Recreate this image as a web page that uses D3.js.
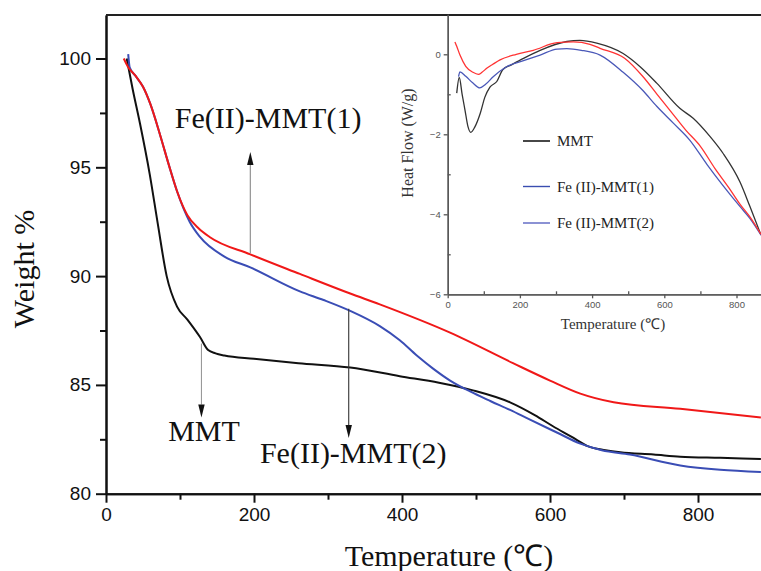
<!DOCTYPE html>
<html><head><meta charset="utf-8">
<script src="https://cdn.jsdelivr.net/npm/d3@7"></script>
<style>body{margin:0;background:#fff}svg{display:block}</style>
</head><body>
<svg id="c" width="761" height="571"></svg>
<script>
// ---- Main TG data (Temperature °C, Weight %) ----
const mmtTemp   = [28, 36, 46, 59, 70, 82, 96, 110, 127, 138, 148, 160, 200, 260, 330, 397, 450, 496, 546, 580, 604, 630, 650, 675, 695, 740, 776, 830, 885];
const mmtWeight = [100, 98.6, 97.0, 94.7, 92.4, 90.0, 88.6, 88.0, 87.2, 86.6, 86.45, 86.35, 86.2, 86.0, 85.8, 85.4, 85.1, 84.75, 84.2, 83.6, 83.1, 82.6, 82.2, 82.0, 81.9, 81.8, 81.7, 81.65, 81.6];
const fe1Temp   = [24, 30, 40, 50, 60, 73, 85, 96, 110, 125, 140, 195, 262, 330, 370, 465, 550, 600, 641, 686, 776, 885];
const fe1Weight = [100, 99.6, 99.2, 98.7, 97.9, 96.5, 95.1, 93.9, 92.8, 92.2, 91.8, 91.0, 90.1, 89.2, 88.7, 87.4, 86.0, 85.2, 84.6, 84.2, 83.9, 83.5];
const fe2Temp   = [30, 32, 40, 50, 60, 73, 85, 96, 113, 127, 160, 195, 262, 294, 330, 370, 397, 420, 442, 465, 492, 520, 546, 573, 610, 641, 670, 708, 776, 830, 885];
const fe2Weight = [100.2, 99.6, 99.2, 98.7, 97.9, 96.5, 95.1, 93.9, 92.5, 91.8, 90.9, 90.4, 89.3, 88.9, 88.4, 87.7, 87.05, 86.35, 85.75, 85.2, 84.7, 84.25, 83.85, 83.4, 82.8, 82.3, 82.0, 81.8, 81.3, 81.1, 81.0];

// ---- Inset DSC data (Temperature °C, Heat Flow W/g) ----
const dscMmtTemp = [25, 32, 40, 48, 56, 64, 75, 90, 103, 117, 136, 153, 175, 210, 256, 330, 366, 413, 486, 533, 579, 643, 680, 727, 763, 810, 837, 868];
const dscMmtHF   = [-0.97, -0.58, -1.0, -1.4, -1.8, -1.95, -1.82, -1.48, -1.07, -0.82, -0.68, -0.38, -0.27, -0.1, 0.1, 0.32, 0.35, 0.28, 0.02, -0.31, -0.72, -1.35, -1.6, -2.06, -2.48, -3.2, -3.8, -4.52];
const dscFe1Temp = [20, 25, 34, 50, 70, 85, 95, 108, 125, 145, 190, 237, 303, 348, 394, 422, 490, 540, 580, 620, 660, 700, 740, 780, 810, 840, 868];
const dscFe1HF   = [0.31, 0.2, -0.02, -0.3, -0.45, -0.5, -0.45, -0.35, -0.25, -0.14, 0.0, 0.1, 0.29, 0.31, 0.25, 0.15, -0.1, -0.55, -1.0, -1.45, -1.9, -2.3, -2.85, -3.35, -3.75, -4.1, -4.5];
const dscFe2Temp = [30, 34, 50, 70, 89, 105, 126, 163, 210, 256, 303, 330, 370, 422, 486, 540, 579, 625, 671, 718, 760, 791, 810, 837, 868];
const dscFe2HF   = [-0.56, -0.44, -0.55, -0.72, -0.84, -0.75, -0.56, -0.31, -0.16, -0.02, 0.13, 0.14, 0.1, -0.02, -0.45, -0.9, -1.3, -1.72, -2.15, -2.75, -3.25, -3.6, -3.81, -4.1, -4.52];

// ---- Ticks / labels ----
const xMajor = [0, 200, 400, 600, 800], xMinor = [100, 300, 500, 700];
const yMajor = [80, 85, 90, 95, 100], yMinor = [82.5, 87.5, 92.5, 97.5];
const ixMajor = [0, 200, 400, 600, 800], ixMinor = [100, 300, 500, 700];
const iyMajor = [-6, -4, -2, 0], iyMinor = [-5, -3, -1];
const legendLabels = ["MMT", "Fe (II)-MMT(1)", "Fe (II)-MMT(2)"];
const legendColors = ["#333333", "#3a4db0", "#5a63c2"];

// Annotations: [label, label T, label W, arrow T, arrow from W, arrow tip W]
const annotations = [
  ["Fe(II)-MMT(1)", 93, 96.8, 195, 91.05, 95.7],
  ["MMT", 84, 82.4, 129, 86.9, 83.5],
  ["Fe(II)-MMT(2)", 208, 81.4, 328, 88.5, 82.56]
];
const arrowColors = ["#888", "#999", "#333"];

const svg = d3.select("#c");
const x = d3.scaleLinear([0, 900], [106, 772]);
const y = d3.scaleLinear([80, 102], [493.7, 15]);
const xi = d3.scaleLinear([0, 900], [447.7, 772.6]);
const yi = d3.scaleLinear([-6, 1], [294.3, 14.3]);

function styleAxis(g, font, size, color, sw) {
  g.select(".domain").attr("stroke", color).attr("stroke-width", sw);
  g.selectAll(".tick line").attr("stroke", color).attr("stroke-width", sw);
  g.selectAll(".tick text").attr("font-family", font).attr("font-size", size).attr("fill", color);
}
const mainFont = "'Liberation Sans', Arial, sans-serif";
const serif = "'Liberation Serif', 'Times New Roman', serif";

// ---- Main axes ----
svg.append("g").attr("transform", "translate(0,493.7)")
  .call(d3.axisBottom(x).tickValues(xMinor).tickSize(6).tickSizeOuter(0).tickFormat(""))
  .call(g => styleAxis(g, mainFont, 19, "#111", 2));
svg.append("g").attr("transform", "translate(0,493.7)")
  .call(d3.axisBottom(x).tickValues(xMajor).tickSize(9).tickSizeOuter(0).tickPadding(5).tickFormat(d3.format("d")))
  .call(g => styleAxis(g, mainFont, 19, "#111", 2));
svg.append("g").attr("transform", "translate(106,0)")
  .call(d3.axisLeft(y).tickValues(yMinor).tickSize(6).tickSizeOuter(0).tickFormat(""))
  .call(g => styleAxis(g, mainFont, 19, "#111", 2));
svg.append("g").attr("transform", "translate(106,0)")
  .call(d3.axisLeft(y).tickValues(yMajor).tickSize(10).tickSizeOuter(0).tickPadding(5).tickFormat(d3.format("d")))
  .call(g => styleAxis(g, mainFont, 19, "#111", 2));
svg.append("path").attr("d", d3.line()([[x(0), y(102)], [x(900), y(102)]]))
  .attr("stroke", "#222").attr("stroke-width", 2).attr("fill", "none");

svg.append("text").attr("transform", "translate(34,269) rotate(-90)")
  .attr("text-anchor", "middle").attr("font-family", serif).attr("font-size", 30).attr("fill", "#111")
  .text("Weight %");
svg.append("text").attr("x", 449).attr("y", 566)
  .attr("text-anchor", "middle").attr("font-family", serif).attr("font-size", 30).attr("fill", "#111")
  .text("Temperature (℃)");

// ---- Main curves ----
const line = d3.line().x(d => x(d[0])).y(d => y(d[1])).curve(d3.curveMonotoneX);
const mainSeries = [
  [mmtTemp, mmtWeight, "#111111"],
  [fe2Temp, fe2Weight, "#3a4db5"],
  [fe1Temp, fe1Weight, "#f01818"]
];
mainSeries.forEach(([t, w, c]) => {
  svg.append("path").datum(d3.zip(t, w)).attr("d", line)
    .attr("fill", "none").attr("stroke", c).attr("stroke-width", 2);
});

// ---- Annotations ----
annotations.forEach(([lab, lt, lw, at, aw0, aw1], i) => {
  const up = aw1 > aw0;
  const ax = x(at), y0 = y(aw0), y1 = y(aw1);
  const headLen = 13, headW = 3.2;
  const base = up ? y1 + headLen : y1 - headLen;
  svg.append("path").attr("d", d3.line()([[ax, y0], [ax, base]]))
    .attr("stroke", arrowColors[i]).attr("stroke-width", 1.1).attr("fill", "none");
  svg.append("path").attr("d", d3.line()([[ax - headW, base], [ax + headW, base], [ax, y1]]) + "Z")
    .attr("fill", "#111");
  svg.append("text").attr("x", x(lt)).attr("y", y(lw))
    .attr("font-family", serif).attr("font-size", 30).attr("fill", "#111").text(lab);
});

// ---- Inset ----
const insetFont = "'Liberation Sans', Arial, sans-serif";
svg.append("g").attr("transform", "translate(0,294.3)")
  .call(d3.axisBottom(xi).tickValues(ixMinor).tickSize(-3).tickSizeOuter(0).tickFormat(""))
  .call(g => styleAxis(g, insetFont, 9.5, "#555", 1.3));
svg.append("g").attr("transform", "translate(0,294.3)")
  .call(d3.axisBottom(xi).tickValues(ixMajor).tickSize(4).tickSizeOuter(0).tickPadding(3).tickFormat(d3.format("d")))
  .call(g => styleAxis(g, insetFont, 9.5, "#555", 1.3));
svg.append("g").attr("transform", "translate(447.7,0)")
  .call(d3.axisLeft(yi).tickValues(iyMinor).tickSize(-3).tickSizeOuter(0).tickFormat(""))
  .call(g => styleAxis(g, insetFont, 9.5, "#555", 1.3));
svg.append("g").attr("transform", "translate(447.7,0)")
  .call(d3.axisLeft(yi).tickValues(iyMajor).tickSize(4).tickSizeOuter(0).tickPadding(3).tickFormat(d3.format("d")))
  .call(g => styleAxis(g, insetFont, 9.5, "#555", 1.3));

svg.append("text").attr("transform", "translate(413,143) rotate(-90)")
  .attr("text-anchor", "middle").attr("font-family", serif).attr("font-size", 16).attr("fill", "#333")
  .text("Heat Flow (W/g)");
svg.append("text").attr("x", 613).attr("y", 329)
  .attr("text-anchor", "middle").attr("font-family", serif).attr("font-size", 15).attr("fill", "#333")
  .text("Temperature (℃)");

const iline = d3.line().x(d => xi(d[0])).y(d => yi(d[1])).curve(d3.curveMonotoneX);
const insetSeries = [
  [dscMmtTemp, dscMmtHF, "#333333"],
  [dscFe2Temp, dscFe2HF, "#4a58b8"],
  [dscFe1Temp, dscFe1HF, "#ff3333"]
];
insetSeries.forEach(([t, h, c]) => {
  svg.append("path").datum(d3.zip(t, h)).attr("d", iline)
    .attr("fill", "none").attr("stroke", c).attr("stroke-width", 1.3);
});

// legend
const legendY = [141, 186.5, 223];
legendLabels.forEach((lab, i) => {
  svg.append("path").attr("d", d3.line()([[523, legendY[i]], [550, legendY[i]]]))
    .attr("stroke", legendColors[i]).attr("stroke-width", i === 0 ? 1.8 : 1.4);
  svg.append("text").attr("x", 557).attr("y", legendY[i] + 5)
    .attr("font-family", serif).attr("font-size", 15).attr("fill", "#222").text(lab);
});
</script>
</body></html>
